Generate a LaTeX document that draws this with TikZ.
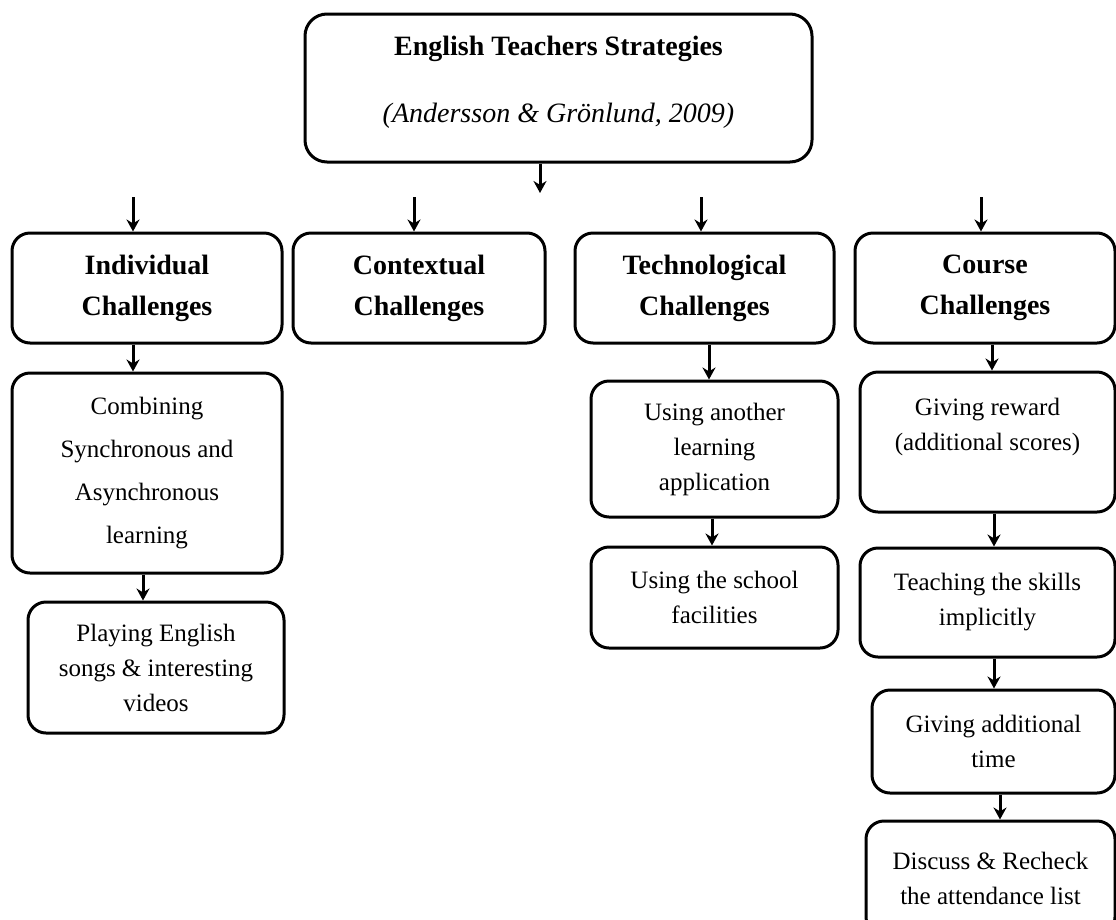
\documentclass[tikz,border=0pt]{standalone}
\usepackage{fontspec}
\setmainfont{Liberation Serif}
\usetikzlibrary{arrows.meta, positioning}

\begin{document}
\begin{tikzpicture}[
        x=1pt, y=-1pt,
        box/.style={rectangle, draw, rounded corners=18pt, line width=3pt, align=center, inner sep=0pt, font=\fontsize{25}{35}\selectfont},
        headbox/.style={box, font=\fontsize{28}{41}\selectfont\bfseries},
        arrow/.style={-{Stealth[length=12pt, width=13pt]}, line width=3pt}
    ]
    \useasboundingbox (0,0) rectangle (1116,919);

    \node[headbox, rounded corners=22pt, minimum width=507pt, minimum height=148pt] (top) at (558.5,88) {English Teachers Strategies\\[26pt]\mdseries\itshape (Andersson \& Grönlund, 2009)\\[-24pt]\mbox{}};

    \node[headbox, minimum width=270pt, minimum height=110pt] (indiv) at (147,288) {Individual\\Challenges};
    \node[headbox, minimum width=252pt, minimum height=110pt] (context) at (419,288) {Contextual\\Challenges};
    \node[headbox, minimum width=259pt, minimum height=110pt] (tech) at (704.5,288) {Technological\\Challenges};
    \node[headbox, minimum width=260pt, minimum height=110pt] (course) at (985,288) {Course\\Challenges};

    \node[box, font=\fontsize{25}{43}\selectfont, minimum width=270pt, minimum height=200pt] (comb) at (147,473) {Combining\\Synchronous and\\Asynchronous\\learning};
    \node[box, minimum width=256pt, minimum height=131pt] (play) at (156,667.5) {Playing English\\songs \& interesting\\videos};

    \node[box, minimum width=247pt, minimum height=136pt] (another) at (714.5,449) {Using another\\learning\\application};
    \node[box, minimum width=247pt, minimum height=101pt] (school) at (714.5,597.5) {Using the school\\facilities};

    \node[box, minimum width=255pt, minimum height=140pt] (reward) at (987.5,442) {Giving reward\\(additional scores)\\\mbox{}};
    \node[box, minimum width=255pt, minimum height=109pt] (teach) at (987.5,602.5) {Teaching the skills\\implicitly};
    \node[box, minimum width=243pt, minimum height=103pt] (addtime) at (993.5,741.5) {Giving additional\\time};
    \node[box, minimum width=249pt, minimum height=114pt] (discuss) at (990.5,878) {Discuss \& Recheck\\the attendance list};

    % loose arrows between the top box and the four groups
    \coordinate (topend) at (540,193);
    \draw[arrow] (top.south -| topend) -- (topend);

    \coordinate (inindiv) at (133,197);
    \coordinate (incontext) at (414,197);
    \coordinate (intech) at (701,197);
    \coordinate (incourse) at (981,197);
    \draw[arrow] (inindiv) -- (inindiv |- indiv.north);
    \draw[arrow] (incontext) -- (incontext |- context.north);
    \draw[arrow] (intech) -- (intech |- tech.north);
    \draw[arrow] (incourse) -- (incourse |- course.north);

    \draw[arrow] ([xshift=-14pt]indiv.south) -- ([xshift=-14pt]indiv.south |- comb.north);
    \draw[arrow] ([xshift=-4pt]comb.south) -- ([xshift=-4pt]comb.south |- play.north);

    \draw[arrow] ([xshift=4.5pt]tech.south) -- ([xshift=4.5pt]tech.south |- another.north);
    \draw[arrow] ([xshift=-2.5pt]another.south) -- ([xshift=-2.5pt]another.south |- school.north);

    \draw[arrow] ([xshift=7pt]course.south) -- ([xshift=7pt]course.south |- reward.north);
    \draw[arrow] ([xshift=6.5pt]reward.south) -- ([xshift=6.5pt]reward.south |- teach.north);
    \draw[arrow] ([xshift=6.5pt]teach.south) -- ([xshift=6.5pt]teach.south |- addtime.north);
    \draw[arrow] ([xshift=6.5pt]addtime.south) -- ([xshift=6.5pt]addtime.south |- discuss.north);

\end{tikzpicture}
\end{document}
